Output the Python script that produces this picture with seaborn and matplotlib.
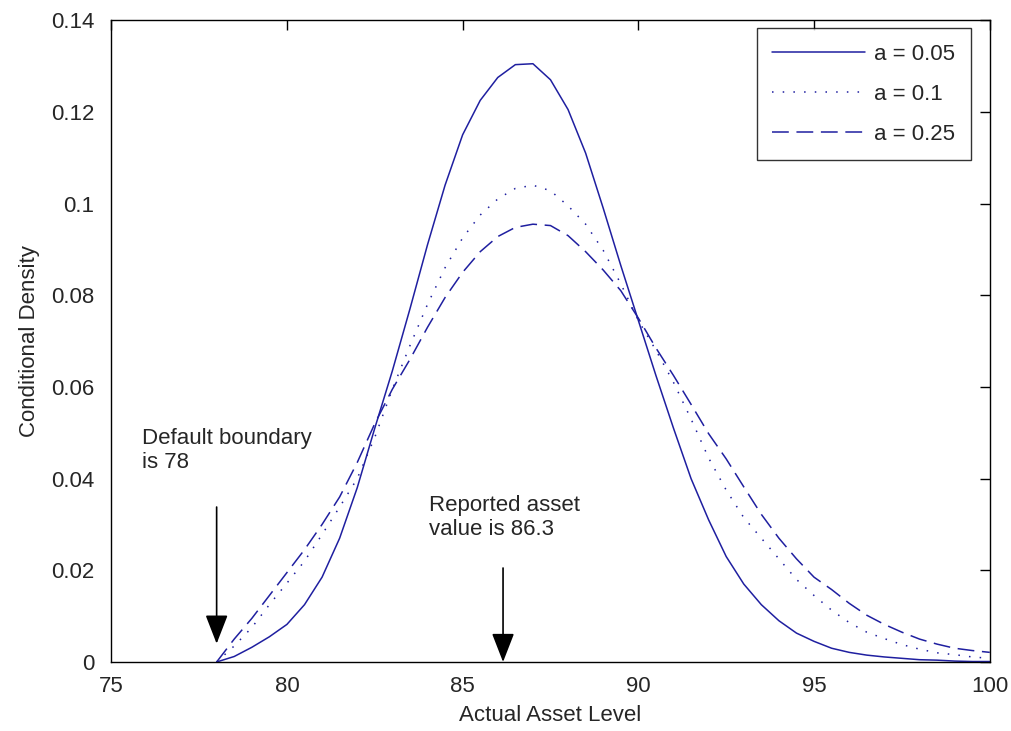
import numpy as np
import pandas as pd
import seaborn as sns
import matplotlib
matplotlib.use("Agg")
import matplotlib.pyplot as plt

# asset level grid (read at half-unit steps)
asset = [78, 78.5, 79, 79.5, 80, 80.5, 81, 81.5, 82, 82.5, 83, 83.5, 84, 84.5,
         85, 85.5, 86, 86.5, 87, 87.5, 88, 88.5, 89, 89.5, 90, 90.5, 91, 91.5,
         92, 92.5, 93, 93.5, 94, 94.5, 95, 95.5, 96, 96.5, 97, 97.5, 98, 98.5,
         99, 99.5, 100]

dens_005 = [0, 0.0012, 0.0032, 0.0055, 0.0082, 0.0125, 0.0185, 0.027, 0.038, 0.051,
            0.0635, 0.077, 0.091, 0.104, 0.115, 0.1225, 0.1275, 0.1303, 0.1305, 0.127,
            0.1205, 0.111, 0.099, 0.0865, 0.0745, 0.0625, 0.051, 0.040, 0.031, 0.023,
            0.017, 0.0125, 0.009, 0.0063, 0.0045, 0.003, 0.0021, 0.0015, 0.0011,
            0.0008, 0.0005, 0.0004, 0.0002, 0.0001, 0.0001]

dens_01 = [0, 0.0035, 0.0075, 0.0125, 0.0172, 0.022, 0.0278, 0.0338, 0.040, 0.049,
           0.0595, 0.069, 0.078, 0.086, 0.0925, 0.0975, 0.101, 0.1033, 0.104, 0.1028,
           0.0995, 0.0955, 0.0898, 0.0825, 0.0745, 0.068, 0.061, 0.053, 0.0445, 0.0375,
           0.0315, 0.027, 0.0225, 0.018, 0.0145, 0.0113, 0.0086, 0.0065, 0.0051,
           0.0038, 0.0028, 0.002, 0.0016, 0.0011, 0.0008]

dens_025 = [0, 0.005, 0.0095, 0.0145, 0.0195, 0.0245, 0.030, 0.036, 0.0435, 0.052,
            0.0595, 0.066, 0.073, 0.0795, 0.085, 0.0895, 0.0928, 0.0948, 0.0955, 0.0952,
            0.093, 0.0895, 0.0855, 0.081, 0.075, 0.0685, 0.0625, 0.0562, 0.0498, 0.0443,
            0.0382, 0.0322, 0.027, 0.0225, 0.0185, 0.0158, 0.0128, 0.0102, 0.0082,
            0.0065, 0.005, 0.0039, 0.003, 0.0025, 0.0021]

labels = ["a = 0.05", "a = 0.1", "a = 0.25"]
default_boundary = 78
reported_value = 86.3

sns.set_style("white")
plt.rcParams["font.family"] = ["Liberation Sans", "DejaVu Sans"]
plt.rcParams["xtick.direction"] = "in"
plt.rcParams["ytick.direction"] = "in"

fig = plt.figure(figsize=(10.11, 7.31), dpi=100)
ax = fig.add_axes([0.110, 0.0944, 0.869, 0.878])

color = "#1f1fa0"
styles = ["-", (0, (1, 6)), (0, (11, 5))]
for dens, lab, ls in zip([dens_005, dens_01, dens_025], labels, styles):
    sns.lineplot(x=asset, y=dens, ax=ax, color=color, linewidth=1.1,
                 linestyle=ls, label=lab)

ax.set_xlim(75, 100)
ax.set_ylim(0, 0.14)
ax.set_xticks([75, 80, 85, 90, 95, 100])
ax.set_yticks(np.arange(0, 0.141, 0.02))
ax.set_yticklabels(["0", "0.02", "0.04", "0.06", "0.08", "0.1", "0.12", "0.14"])
ax.tick_params(axis="both", labelsize=16, length=7, width=1,
               top=True, right=True, color="black")
ax.tick_params(axis="x", pad=10)
ax.tick_params(axis="y", pad=12)
for sp in ax.spines.values():
    sp.set_color("black")
    sp.set_linewidth(1.0)

ax.set_xlabel("Actual Asset Level", fontsize=16, labelpad=6)
ax.set_ylabel("Conditional Density", fontsize=16, labelpad=8)

ax.text(75.88, 0.051, "Default boundary\nis 78", fontsize=16, va="top",
        ha="left", linespacing=1.2)
ax.text(84.05, 0.0365, "Reported asset\nvalue is 86.3", fontsize=16, va="top",
        ha="left", linespacing=1.2)

arrow = dict(arrowstyle="-|>,head_length=0.9,head_width=0.35", color="black",
             lw=1.2, mutation_scale=20, shrinkA=0, shrinkB=0)
ax.annotate("", xy=(default_boundary, 0.004), xytext=(default_boundary, 0.0338),
            arrowprops=arrow)
ax.annotate("", xy=(86.15, 0.0), xytext=(86.15, 0.0205), arrowprops=arrow)

leg = ax.legend(loc="upper right", fontsize=16, frameon=True, fancybox=False,
                edgecolor="black", handlelength=4.2, borderpad=0.7,
                labelspacing=0.85, handletextpad=0.4, borderaxespad=0,
                bbox_to_anchor=(0.9785, 0.9875))
leg.get_frame().set_linewidth(1.0)

fig.savefig("out.png", dpi=100, facecolor="white")
